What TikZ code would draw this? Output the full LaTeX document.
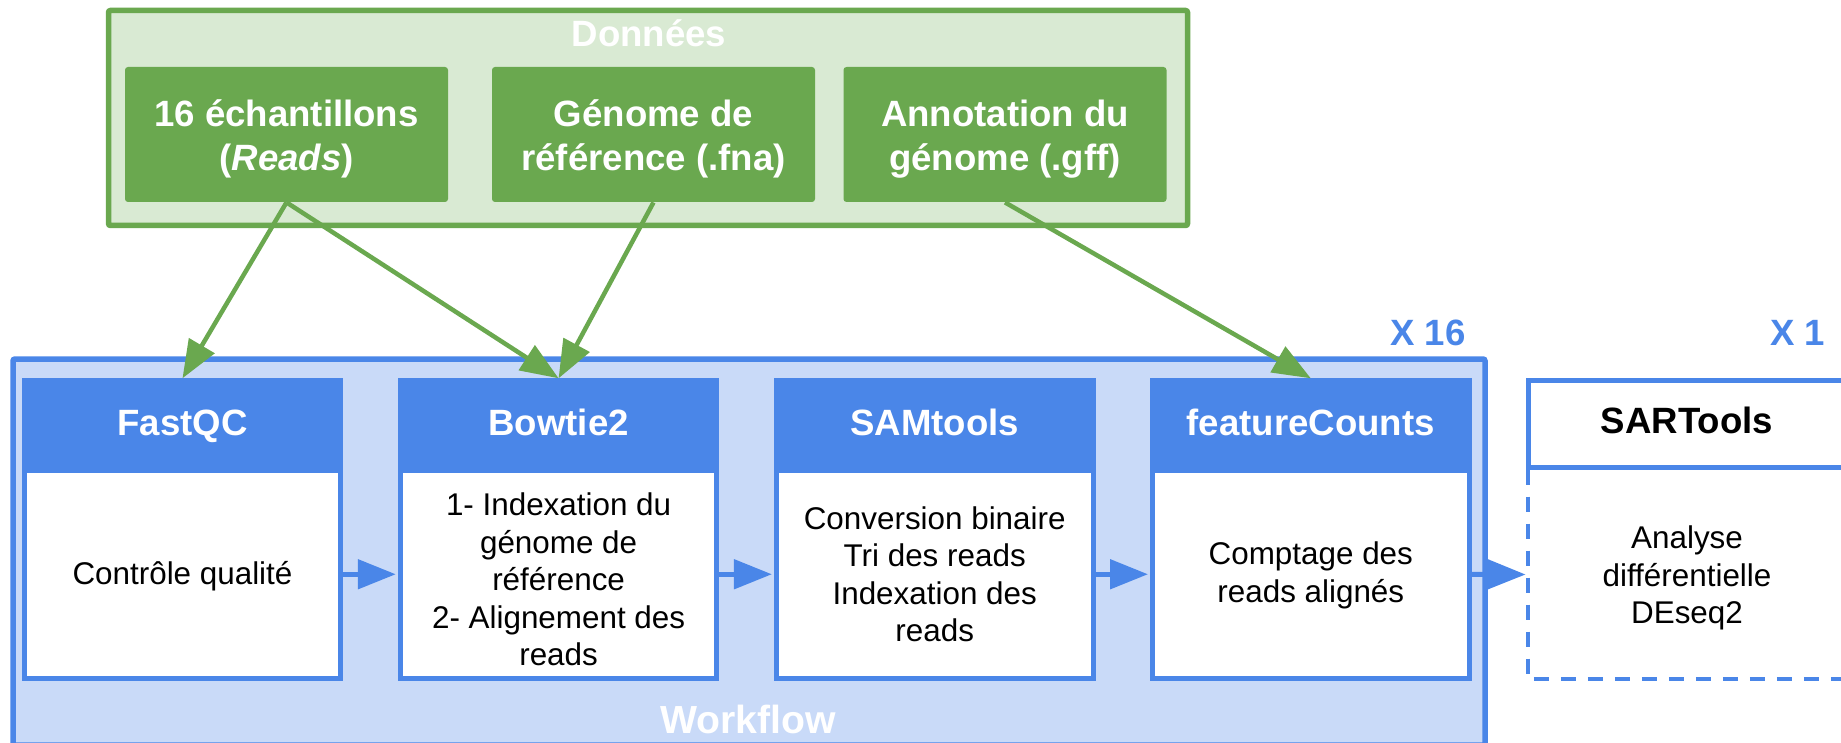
\documentclass[tikz,border=0pt]{standalone}
\usepackage{fontspec}
\setmainfont{Liberation Sans}
\usetikzlibrary{arrows.meta}
\definecolor{dgreen}{HTML}{6AA84F}
\definecolor{lgreen}{HTML}{D9EAD3}
\definecolor{dblue}{HTML}{4A86E8}
\definecolor{lblue}{HTML}{C9DAF8}
\tikzset{
  titlefont/.style={font=\fontsize{18.3pt}{22pt}\selectfont\bfseries},
  bigtitlefont/.style={font=\fontsize{19.6pt}{23pt}\selectfont\bfseries},
  bodyfont/.style={font=\fontsize{15.7pt}{18.75pt}\selectfont},
  dataframe/.style={draw=dgreen, fill=lgreen, line width=2.75pt, rounded corners=1pt,
    minimum width=539.5pt, minimum height=107.5pt, inner sep=0pt},
  databox/.style={fill=dgreen, rounded corners=1.5pt, minimum width=161.5pt,
    minimum height=67.5pt, inner sep=0pt},
  boxtext/.style={text=white, titlefont, align=center, inner sep=0pt},
  wfframe/.style={draw=dblue, fill=lblue, line width=2.75pt, rounded corners=1pt,
    minimum width=736pt, minimum height=193pt, inner sep=0pt},
  stephead/.style={draw=dblue, fill=dblue, line width=2.5pt, minimum width=158.3pt,
    minimum height=44.6pt, text=white, titlefont, inner sep=0pt,
    text height=13.1pt, text depth=3.5pt},
  stepbody/.style={draw=dblue, fill=white, line width=2.5pt, minimum width=158.3pt,
    minimum height=104.25pt, inner sep=0pt},
  bodytext/.style={bodyfont, align=center, inner sep=0pt},
  sarhead/.style={draw=dblue, fill=white, line width=2.5pt, minimum width=159pt,
    minimum height=43.35pt, text=black, titlefont, inner sep=0pt,
    text height=13.1pt, text depth=4.2pt},
  sarbody/.style={minimum width=159pt, minimum height=104.5pt, inner sep=0pt},
  dashedge/.style={draw=dblue, line width=2pt, dash pattern=on 7.5pt off 6pt},
  feed/.style={draw=dgreen, line width=2.25pt, -{Triangle[length=19pt,width=14.5pt]}},
  flow/.style={draw=dblue, line width=2.5pt, -{Triangle[length=19pt,width=14.5pt]},
    shorten >=1pt},
  lbl/.style={titlefont, anchor=base, inner sep=0pt},
}
\begin{document}
\begin{tikzpicture}[x=0.5pt, y=-0.5pt]
\useasboundingbox (0,0) rectangle (1841,743);
\clip (0,0) rectangle (1841,743);

% Données
\node[dataframe] (data) at (648,118) {};
\node[lbl, text=white] (datalbl) at (649,46.7) {Données};
\node[databox] (d1) at (286.5,134.5) {};
\node[databox] (d2) at (653.5,134.5) {};
\node[databox] (d3) at (1005,134.5) {};
\node[boxtext, yshift=-2.3pt] (d1t) at (d1.center) {16 échantillons\\(\textit{Reads})};
\node[boxtext, yshift=-2.3pt] (d2t) at (d2.center) {Génome de\\référence (.fna)};
\node[boxtext, yshift=-2.3pt] (d3t) at (d3.center) {Annotation du\\génome (.gff)};

% Workflow
\node[wfframe] (wf) at (749,552) {};
\node[lbl, bigtitlefont, text=white] (wflbl) at (748.3,733.3) {Workflow};
\node[lbl, text=dblue] (x16) at (1428,345.7) {X 16};
\node[lbl, text=dblue] (x1) at (1797.5,345.7) {X 1};

\node[stephead] (fqh) at (182.5,425.4) {FastQC};
\node[stepbody] (fqb) at (182.5,574.25) {};
\node[bodytext, yshift=-1pt] (fqt) at (fqb.center) {Contrôle qualité};
\node[stephead] (bth) at (558.6,425.4) {Bowtie2};
\node[stepbody] (btb) at (558.6,574.25) {};
\node[bodytext, yshift=-2.75pt] (btt) at (btb.center) {1- Indexation du\\génome de\\référence\\2- Alignement des\\reads};
\node[stephead] (smh) at (934.7,425.4) {SAMtools};
\node[stepbody] (smb) at (934.7,574.25) {};
\node[bodytext] (smt) at (smb.center) {Conversion binaire\\Tri des reads\\Indexation des\\reads};
\node[stephead] (fch) at (1310.8,425.4) {featureCounts};
\node[stepbody] (fcb) at (1310.8,574.25) {};
\node[bodytext, yshift=-0.6pt] (fct) at (fcb.center) {Comptage des\\reads alignés};

% SARTools
\node[sarhead] (sarh) at (1687,424.15) {SARTools};
\node[sarbody] (sarb) at (1687,574.5) {};
\node[bodytext, yshift=-1.75pt] (sart) at (sarb.center) {Analyse\\différentielle\\DEseq2};
\draw[dashedge] (sarb.north west) -- (sarb.south west) -- (sarb.south east);

% connectors
\draw[feed] (d1.south) -- (fqh.north);
\draw[feed] (d1.south) -- (bth.north);
\draw[feed] (d2.south) -- (bth.north);
\draw[feed] (d3.south) -- (fch.north);

\draw[flow] (fqb.east) -- (btb.west);
\draw[flow] (btb.east) -- (smb.west);
\draw[flow] (smb.east) -- (fcb.west);
\draw[flow] (fcb.east) -- (sarb.west);
\end{tikzpicture}
\end{document}
